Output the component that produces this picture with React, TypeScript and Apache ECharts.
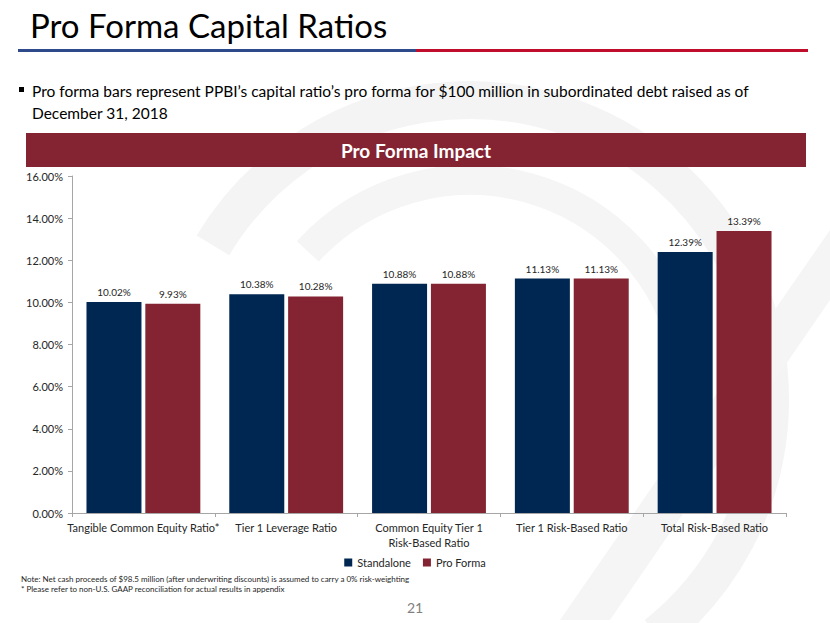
import React, { useEffect, useRef } from "react";
import * as echarts from "echarts";

const categories = [
  "Tangible Common Equity Ratio*",
  "Tier 1 Leverage Ratio",
  "Common Equity Tier 1\nRisk-Based Ratio",
  "Tier 1 Risk-Based Ratio",
  "Total Risk-Based Ratio",
];
const standalone = [10.02, 10.38, 10.88, 11.13, 12.39];
const proForma = [9.93, 10.28, 10.88, 11.13, 13.39];
const seriesNames = ["Standalone", "Pro Forma"];

const NAVY = "#002652";
const RED = "#842331";
const FONT = "Lato, 'Open Sans', sans-serif";

export default function App() {
  const ref = useRef<HTMLDivElement>(null);
  useEffect(() => {
    if (!ref.current) return;
    const chart = echarts.init(ref.current, null, { renderer: "svg" });
    const label = {
      show: true,
      position: "top",
      distance: 5,
      fontSize: 10,
      color: "#262626",
      fontFamily: FONT,
      formatter: (p: any) => p.value.toFixed(2) + "%",
    };
    chart.setOption({
      animation: false,
      backgroundColor: "#ffffff",
      textStyle: { fontFamily: FONT },
      grid: { left: 72, right: 44, top: 176, bottom: 110, containLabel: false },
      legend: {
        data: seriesNames,
        top: 552,
        left: "center",
        itemWidth: 8,
        itemHeight: 8,
        itemGap: 12,
        icon: "rect",
        textStyle: { fontSize: 11, color: "#262626", fontFamily: FONT },
      },
      xAxis: {
        type: "category",
        data: categories,
        axisLine: { lineStyle: { color: "#a6a6a6" } },
        axisTick: { show: true, length: 4, lineStyle: { color: "#a6a6a6" } },
        axisLabel: { color: "#262626", fontSize: 11, margin: 7, lineHeight: 15, interval: 0, fontFamily: FONT },
      },
      yAxis: {
        type: "value",
        min: 0,
        max: 16,
        interval: 2,
        splitLine: { show: false },
        axisLine: { show: true, lineStyle: { color: "#a6a6a6" } },
        axisTick: { show: true, length: 4, lineStyle: { color: "#a6a6a6" } },
        axisLabel: {
          color: "#262626",
          fontSize: 11,
          margin: 9,
          fontFamily: FONT,
          formatter: (v: number) => v.toFixed(2) + "%",
        },
      },
      series: [
        {
          name: seriesNames[0],
          type: "bar",
          data: standalone,
          barWidth: 55,
          barGap: "7%",
          itemStyle: { color: NAVY },
          label,
        },
        {
          name: seriesNames[1],
          type: "bar",
          data: proForma,
          barWidth: 55,
          barGap: "7%",
          itemStyle: { color: RED },
          label,
        },
      ],
      graphic: [
        // faint watermark
        {
          type: "arc",
          z: -10,
          silent: true,
          shape: { cx: 470, cy: 400, r: 300, startAngle: -2.6, endAngle: 0.9 },
          style: { stroke: "#f4f4f4", lineWidth: 38, fill: "none" },
        },
        {
          type: "arc",
          z: -10,
          silent: true,
          shape: { cx: 470, cy: 400, r: 220, startAngle: -2.4, endAngle: -0.2 },
          style: { stroke: "#f5f5f5", lineWidth: 30, fill: "none" },
        },
        {
          type: "polygon",
          z: -10,
          silent: true,
          shape: { points: [[560, 620], [610, 620], [830, 300], [830, 230]] },
          style: { fill: "#f5f5f5" },
        },
        {
          type: "text",
          left: 30,
          top: 8,
          style: { text: "Pro Forma Capital Ratios", fontSize: 33, fill: "#000000", fontFamily: FONT },
        },
        {
          type: "rect",
          shape: { x: 18, y: 49, width: 398, height: 3 },
          style: { fill: "#2e4a8b" },
        },
        {
          type: "rect",
          shape: { x: 416, y: 49, width: 392, height: 3 },
          style: { fill: "#c00d2e" },
        },
        {
          type: "rect",
          shape: { x: 19, y: 87, width: 5, height: 5 },
          style: { fill: "#000000" },
        },
        {
          type: "text",
          left: 32,
          top: 80,
          style: {
            text:
              "Pro forma bars represent PPBI\u2019s capital ratio\u2019s pro forma for $100 million in subordinated debt raised as of\nDecember 31, 2018",
            fontSize: 15.5,
            lineHeight: 22,
            fill: "#000000",
            fontFamily: FONT,
          },
        },
        {
          type: "rect",
          shape: { x: 26, y: 133, width: 780, height: 34 },
          style: { fill: RED },
        },
        {
          type: "text",
          x: 416,
          y: 150,
          style: {
            text: "Pro Forma Impact",
            fontSize: 19,
            fontWeight: "bold",
            fill: "#ffffff",
            align: "center",
            verticalAlign: "middle",
            fontFamily: FONT,
          },
        },
        {
          type: "text",
          left: 21,
          top: 574,
          style: {
            text:
              "Note: Net cash proceeds of $98.5 million (after underwriting discounts) is assumed to carry a 0% risk-weighting\n* Please refer to non-U.S. GAAP reconciliation for actual results in appendix",
            fontSize: 8,
            lineHeight: 10,
            fill: "#262626",
            fontFamily: FONT,
          },
        },
        {
          type: "text",
          x: 415,
          y: 607,
          style: {
            text: "21",
            fontSize: 14,
            fill: "#7f7f7f",
            align: "center",
            verticalAlign: "middle",
            fontFamily: FONT,
          },
        },
      ],
    });
    return () => chart.dispose();
  }, []);
  return (
    <div
      ref={ref}
      style={{ position: "fixed", left: 0, top: 0, width: 830, height: 623 }}
    />
  );
}
